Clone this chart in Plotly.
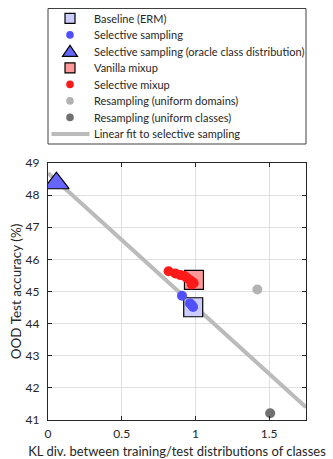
import plotly.graph_objects as go

# KL divergence (x) and OOD test accuracy (y) per method
baseline_x = [0.985]
baseline_y = [44.51]

sel_sampling_x = [0.909, 0.963, 0.975, 0.984]
sel_sampling_y = [44.87, 44.63, 44.58, 44.52]

oracle_x = [0.057]
oracle_y = [48.37]

vanilla_mixup_x = [0.99]
vanilla_mixup_y = [45.36]

sel_mixup_x = [0.818, 0.864, 0.898, 0.925, 0.943, 0.966, 0.977, 0.988, 0.975]
sel_mixup_y = [45.63, 45.56, 45.51, 45.48, 45.42, 45.34, 45.30, 45.26, 45.22]

uniform_domains_x = [1.42]
uniform_domains_y = [45.06]

uniform_classes_x = [1.507]
uniform_classes_y = [41.21]

fit_x = [0.0, 1.75]
fit_y = [48.69, 41.40]

x_ticks = [0, 0.5, 1, 1.5]
y_ticks = [41, 42, 43, 44, 45, 46, 47, 48, 49]

legend_names = [
    "Baseline (ERM)",
    "Selective sampling",
    "Selective sampling (oracle class distribution)",
    "Vanilla mixup",
    "Selective mixup",
    "Resampling (uniform domains)",
    "Resampling (uniform classes)",
    "Linear fit to selective sampling",
]

FONT = "Lato"
TXT = "#262626"
W, H = 333, 459
ML, MR, MT, MB = 48, 27, 163, 39
PW, PH = W - ML - MR, H - MT - MB

C_BASE = "#ccccff"
C_SEL = "#5050ff"
C_ORACLE = "#6666ff"
C_VAN = "#ff9999"
C_SELMIX = "#ff1a1a"
C_UDOM = "#b3b3b3"
C_UCLS = "#707070"
C_FIT = "#bbbbbb"

fig = go.Figure()

fig.add_trace(go.Scatter(
    x=fit_x, y=fit_y, mode="lines", name=legend_names[7],
    line=dict(color=C_FIT, width=4), showlegend=False))

fig.add_trace(go.Scatter(
    x=baseline_x, y=baseline_y, mode="markers", name=legend_names[0],
    marker=dict(symbol="square", size=19, color=C_BASE,
                line=dict(color="black", width=1.2)), showlegend=False))

fig.add_trace(go.Scatter(
    x=vanilla_mixup_x, y=vanilla_mixup_y, mode="markers", name=legend_names[3],
    marker=dict(symbol="square", size=19, color=C_VAN,
                line=dict(color="black", width=1.2)), showlegend=False))

fig.add_trace(go.Scatter(
    x=oracle_x, y=oracle_y, mode="markers", name=legend_names[2],
    marker=dict(symbol="triangle-up", size=22, color=C_ORACLE,
                line=dict(color="black", width=1.2)), showlegend=False))

fig.add_trace(go.Scatter(
    x=sel_sampling_x, y=sel_sampling_y, mode="markers", name=legend_names[1],
    marker=dict(symbol="circle", size=10, color=C_SEL), showlegend=False))

fig.add_trace(go.Scatter(
    x=sel_mixup_x, y=sel_mixup_y, mode="markers", name=legend_names[4],
    marker=dict(symbol="circle", size=10, color=C_SELMIX), showlegend=False))

fig.add_trace(go.Scatter(
    x=uniform_domains_x, y=uniform_domains_y, mode="markers", name=legend_names[5],
    marker=dict(symbol="circle", size=10, color=C_UDOM), showlegend=False))

fig.add_trace(go.Scatter(
    x=uniform_classes_x, y=uniform_classes_y, mode="markers", name=legend_names[6],
    marker=dict(symbol="circle", size=10, color=C_UCLS), showlegend=False))


# ---- legend box drawn above the axes (pixel layout -> paper coordinates) ----
def px(xp):
    return (xp - ML) / PW


def py(yp):
    return (H - MB - yp) / PH


shapes = []
annotations = []

shapes.append(dict(type="rect", xref="paper", yref="paper",
                   x0=px(48), x1=px(306), y0=py(144), y1=py(8.5),
                   line=dict(color="#404040", width=1), fillcolor="white"))

row_y0, row_dy = 18.4, 16.5
sym_x, text_x = 70, 91.5
kinds = [("square", C_BASE), ("circle", C_SEL), ("triangle", C_ORACLE),
         ("square", C_VAN), ("circle", C_SELMIX), ("circle", C_UDOM),
         ("circle", C_UCLS), ("line", C_FIT)]

for i, (name, (kind, col)) in enumerate(zip(legend_names, kinds)):
    yc = row_y0 + i * row_dy
    if kind == "square":
        s = 5
        shapes.append(dict(type="rect", xref="paper", yref="paper",
                           x0=px(sym_x - s), x1=px(sym_x + s),
                           y0=py(yc + s), y1=py(yc - s),
                           fillcolor=col, line=dict(color="black", width=1.2)))
    elif kind == "circle":
        r = 3.8
        shapes.append(dict(type="circle", xref="paper", yref="paper",
                           x0=px(sym_x - r), x1=px(sym_x + r),
                           y0=py(yc + r), y1=py(yc - r),
                           fillcolor=col, line=dict(width=0)))
    elif kind == "triangle":
        path = "M {} {} L {} {} L {} {} Z".format(
            px(sym_x - 7.5), py(yc + 5), px(sym_x + 7.5), py(yc + 5),
            px(sym_x), py(yc - 6))
        shapes.append(dict(type="path", xref="paper", yref="paper", path=path,
                           fillcolor=col, line=dict(color="black", width=1.2)))
    else:
        shapes.append(dict(type="line", xref="paper", yref="paper",
                           x0=px(51.5), x1=px(89.5), y0=py(yc), y1=py(yc),
                           line=dict(color=col, width=4)))
    annotations.append(dict(text=name, xref="paper", yref="paper",
                            x=px(text_x), y=py(yc), xanchor="left", yanchor="middle",
                            showarrow=False,
                            font=dict(family=FONT, size=11, color=TXT)))

axis_common = dict(
    showline=True, linecolor=TXT, linewidth=1.2, mirror="allticks",
    ticks="inside", ticklen=4, tickcolor=TXT, automargin=False,
    showgrid=True, gridcolor="#e0e0e0", gridwidth=1, zeroline=False,
    tickfont=dict(family=FONT, size=12, color=TXT),
)

fig.update_xaxes(range=[0, 1.75], tickvals=x_ticks, ticklabelstandoff=2,
                 title=dict(text="KL div. between training/test distributions of classes",
                            font=dict(family=FONT, size=13, color=TXT), standoff=12),
                 **axis_common)
fig.update_yaxes(range=[41, 49], tickvals=y_ticks, ticklabelstandoff=5,
                 title=dict(text="OOD Test accuracy (%)",
                            font=dict(family=FONT, size=13.5, color=TXT), standoff=0),
                 **axis_common)

fig.update_layout(
    width=W, height=H,
    margin=dict(l=ML, r=MR, t=MT, b=MB, autoexpand=False),
    plot_bgcolor="white", paper_bgcolor="white",
    font=dict(family=FONT, size=11, color=TXT),
    showlegend=False,
    shapes=shapes,
    annotations=annotations,
)

fig.write_html("out.html")
